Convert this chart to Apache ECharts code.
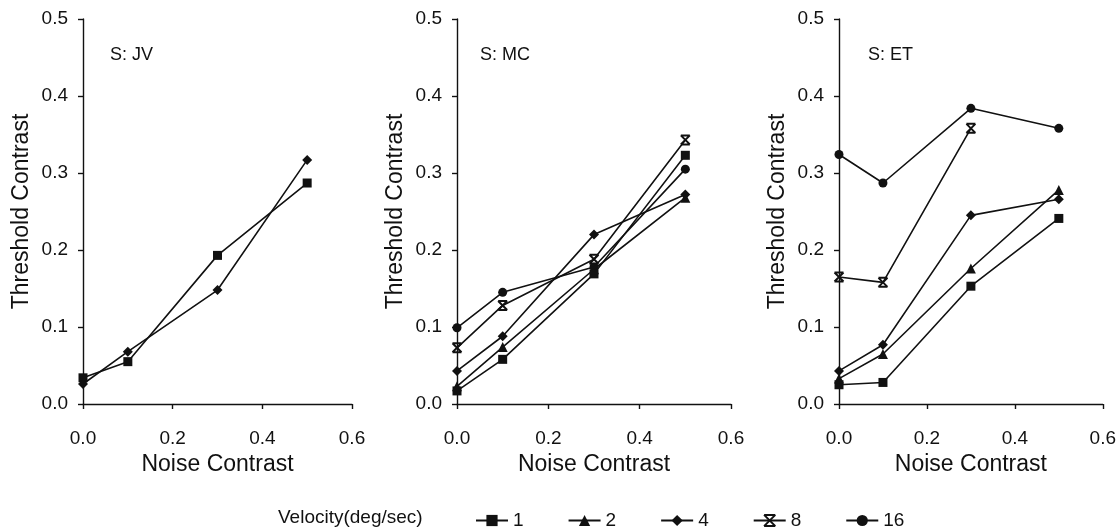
<!DOCTYPE html>
<html>
<head>
<meta charset="utf-8">
<script src="https://cdn.jsdelivr.net/npm/echarts@6/dist/echarts.min.js"></script>
<style>html,body{margin:0;padding:0;background:#fff;}#c{width:1119px;height:528px;}</style>
</head>
<body>
<div id="c"></div>
<script>
// ---- data ----
const noise = [0, 0.1, 0.3, 0.5];
const velocities = ['1', '2', '4', '8', '16'];
const xTicks = ['0.0', '0.2', '0.4', '0.6'];
const yTicks = ['0.0', '0.1', '0.2', '0.3', '0.4', '0.5'];
const subjects = ['S: JV', 'S: MC', 'S: ET'];
// S: JV
const jv1 = [0.034, 0.055, 0.193, 0.287];
const jv4 = [0.026, 0.068, 0.148, 0.317];
// S: MC
const mc1 = [0.017, 0.058, 0.169, 0.323];
const mc2 = [0.023, 0.074, 0.175, 0.268];
const mc4 = [0.043, 0.088, 0.220, 0.272];
const mc8 = [0.073, 0.128, 0.188, 0.343];
const mc16 = [0.099, 0.145, 0.178, 0.305];
// S: ET
const et1 = [0.025, 0.028, 0.153, 0.241];
const et2 = [0.033, 0.065, 0.176, 0.278];
const et4 = [0.043, 0.077, 0.245, 0.266];
const et8 = [0.165, 0.158, 0.358, null];
const et16 = [0.324, 0.287, 0.384, 0.358];

// ---- styling ----
const INK = '#111';
const FONT = 'Liberation Sans, Arial, sans-serif';
const symbols = {
  '1': {symbol: 'rect', size: 9},
  '2': {symbol: 'triangle', size: 10},
  '4': {symbol: 'diamond', size: 10},
  '8': {symbol: 'path://M0,0L10,0M0,10L10,10M0,0L10,10M10,0L0,10', size: 9},
  '16': {symbol: 'circle', size: 9}
};
const panels = [
  {grid: {left: 83, top: 19, width: 269, height: 385}, title: [105, 41], series: {'1': jv1, '4': jv4}},
  {grid: {left: 457, top: 19, width: 274, height: 385}, title: [475, 41], series: {'1': mc1, '2': mc2, '4': mc4, '8': mc8, '16': mc16}},
  {grid: {left: 839, top: 19, width: 267, height: 385}, title: [863, 41], series: {'1': et1, '2': et2, '4': et4, '8': et8, '16': et16}}
];

const grids = [], xAxes = [], yAxes = [], series = [], titles = [];
panels.forEach((p, i) => {
  grids.push(p.grid);
  xAxes.push({
    type: 'value', gridIndex: i, min: 0, max: 0.6, interval: 0.2,
    name: 'Noise Contrast', nameLocation: 'middle', nameGap: 46,
    nameTextStyle: {fontSize: 23, color: INK, fontFamily: FONT},
    axisLine: {onZero: false, lineStyle: {color: INK, width: 1.4}},
    axisTick: {show: true, length: 5, lineStyle: {color: INK, width: 1.4}},
    axisLabel: {fontSize: 19, color: INK, fontFamily: FONT, margin: 25,
      formatter: v => xTicks[Math.round(v / 0.2)]},
    splitLine: {show: false}
  });
  yAxes.push({
    type: 'value', gridIndex: i, min: 0, max: 0.5, interval: 0.1,
    name: 'Threshold Contrast', nameLocation: 'middle', nameGap: 50, nameRotate: 90,
    nameTextStyle: {fontSize: 23, color: INK, fontFamily: FONT},
    axisLine: {show: true, lineStyle: {color: INK, width: 1.4}},
    axisTick: {show: true, length: 5, lineStyle: {color: INK, width: 1.4}},
    axisLabel: {fontSize: 19, color: INK, fontFamily: FONT, margin: 15,
      formatter: v => yTicks[Math.round(v / 0.1)]},
    splitLine: {show: false}
  });
  titles.push({
    text: subjects[i], left: p.title[0], top: p.title[1],
    textStyle: {fontSize: 18, fontWeight: 'normal', color: INK, fontFamily: FONT}
  });
  velocities.forEach(v => {
    const vals = p.series[v];
    if (!vals) return;
    const s = symbols[v];
    series.push({
      name: v, type: 'line', xAxisIndex: i, yAxisIndex: i,
      data: noise.map((x, k) => [x, vals[k]]),
      symbol: s.symbol, symbolSize: s.size, showAllSymbol: true,
      connectNulls: false,
      lineStyle: {color: INK, width: 1.6},
      itemStyle: v === '8' ? {color: INK, borderColor: INK, borderWidth: 2} : {color: INK, borderWidth: 0},
      emphasis: {disabled: true},
      z: 3
    });
  });
});

const chart = echarts.init(document.getElementById('c'), null, {renderer: 'canvas'});
chart.setOption({
  backgroundColor: '#fff',
  animation: false,
  title: titles,
  grid: grids,
  xAxis: xAxes,
  yAxis: yAxes,
  legend: {
    data: velocities, left: 470, top: 506,
    itemWidth: 32, itemHeight: 14, itemGap: 44,
    textStyle: {fontSize: 19, color: INK, fontFamily: FONT},
    selectedMode: false
  },
  graphic: [{
    type: 'text', left: 278, top: 508,
    style: {text: 'Velocity(deg/sec)', fontSize: 19, fill: INK, fontFamily: FONT}
  }],
  series: series
});
</script>
</body>
</html>
